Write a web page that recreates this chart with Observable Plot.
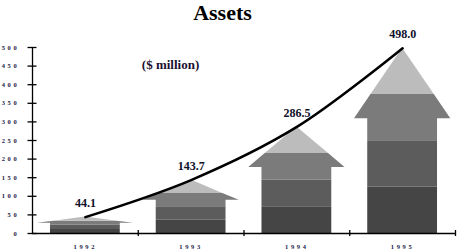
<!DOCTYPE html>
<html>
<head>
<meta charset="utf-8">
<script src="https://cdn.jsdelivr.net/npm/d3@7"></script>
<script src="https://cdn.jsdelivr.net/npm/@observablehq/plot@0.6"></script>
<style>
  body { margin: 0; background: #fff; }
  #title { height: 22px; line-height: 22px; font: bold 22px "Liberation Serif", serif; text-align: center; padding-right: 12px; color: #000; }
  svg g[aria-label^="y-axis"] text, svg g[aria-label^="x-axis"] text { letter-spacing: 2.7px; }
</style>
</head>
<body>
<div id="title">Assets</div>
<div id="chart"></div>
<script>
const years = [1992, 1993, 1994, 1995];
const assets = [44.1, 143.7, 286.5, 498.0];
const valueLabels = ["44.1", "143.7", "286.5", "498.0"];
const yTicks = [0, 50, 100, 150, 200, 250, 300, 350, 400, 450, 500];
const xBoundaries = [1992.5, 1993.5, 1994.5, 1995.5];
const subtitle = "($ million)";
const shades = ["#454545", "#5c5c5c", "#7b7b7b", "#bcbcbc"];

const xDomain = [1991.5, 1995.5];
const headFrac = 0.38, headHalf = 0.455, bodyHalf = 0.33;

// arrow band polygons derived from values
const rows = [];
years.forEach((yr, i) => {
  const v = assets[i], s = v * (1 - headFrac);
  const w = y => (y < s ? bodyHalf : headHalf * (v - y) / (v - s));
  for (let k = 0; k < 4; k++) {
    const a = v * k / 4, b = v * (k + 1) / 4;
    const pts = [{y: a, w: w(a)}];
    if (s > a && s < b) { pts.push({y: s, w: bodyHalf}); pts.push({y: s, w: headHalf}); }
    pts.push({y: b, w: b >= v ? 0 : (b <= s ? bodyHalf : w(b))});
    pts.forEach(p => rows.push({band: yr + "-" + k, color: shades[k], y: p.y, x1: yr - p.w, x2: yr + p.w}));
  }
});
const tips = years.map((yr, i) => ({year: yr, value: assets[i], label: valueLabels[i]}));

const plot = Plot.plot({
  width: 457, height: 229,
  marginLeft: 32, marginRight: 2, marginTop: 25, marginBottom: 18,
  x: {domain: xDomain, axis: null},
  y: {domain: [0, 500], axis: null},
  color: {type: "identity"},
  style: {fontFamily: "Liberation Serif", background: "white", color: "#000", overflow: "visible"},
  marks: [
    Plot.areaX(rows, {y: "y", x1: "x1", x2: "x2", z: "band", fill: "color"}),
    Plot.line(tips, {x: "year", y: "value", curve: "catmull-rom", stroke: "#000", strokeWidth: 2.5}),
    Plot.text(tips, {x: "year", y: "value", text: "label", dy: -14, fontSize: 12, fontWeight: "bold", fill: "#10102a"}),
    Plot.ruleX([xDomain[0]], {y1: 0, y2: 500, stroke: "#000", strokeWidth: 1.3}),
    Plot.ruleY([0], {stroke: "#000", strokeWidth: 1.3}),
    Plot.axisY({ticks: yTicks, tickSize: 9, dx: 4.5, tickFormat: () => "", stroke: "#000", strokeWidth: 1.3}),
    Plot.axisY({ticks: yTicks, tickSize: 0, tickPadding: 13, tickFormat: d => String(d), fontSize: 6.5, fontWeight: "bold", fill: "#22224a", label: null}),
    Plot.axisX({ticks: xBoundaries, tickSize: 6, dy: -3, tickFormat: () => "", stroke: "#000", strokeWidth: 1.3, label: null}),
    Plot.axisX({ticks: years, tickSize: 0, tickPadding: 11, tickFormat: d => String(d), fontSize: 6.5, fontWeight: "bold", fill: "#22224a", label: null}),
    Plot.text([subtitle], {frameAnchor: "top-left", dx: 138, dy: 12, textAnchor: "middle", text: d => d, fontSize: 13, fontWeight: "bold", fill: "#1b1030"})
  ]
});
document.getElementById("chart").appendChild(plot);
</script>
</body>
</html>
